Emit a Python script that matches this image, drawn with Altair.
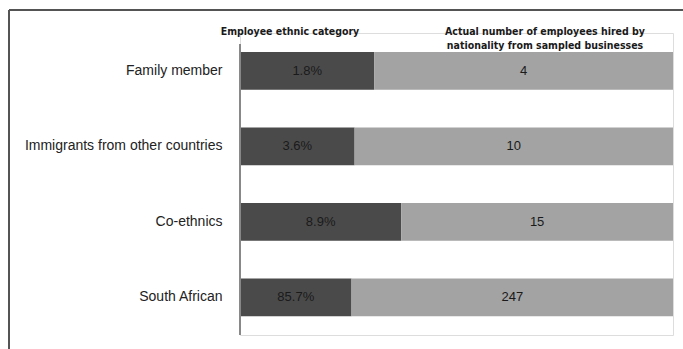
import altair as alt
import pandas as pd

categories = ["Family member", "Immigrants from other countries", "Co-ethnics", "South African"]
pct_values = [1.8, 3.6, 8.9, 85.7]
count_values = [4, 10, 15, 247]
pct_labels = ["1.8%", "3.6%", "8.9%", "85.7%"]
count_labels = ["4", "10", "15", "247"]
segments = ["Employee ethnic category", "Actual number of employees hired by nationality from sampled businesses"]

rows = []
for c, p, n, pl, nl in zip(categories, pct_values, count_values, pct_labels, count_labels):
    rows.append({"category": c, "segment": segments[0], "order": 0, "value": p, "label": pl})
    rows.append({"category": c, "segment": segments[1], "order": 1, "value": n, "label": nl})
df = pd.DataFrame(rows)

FONT = "Liberation Sans"

y_enc = alt.Y("category:N", sort=categories,
              scale=alt.Scale(paddingInner=0.5, paddingOuter=0.25),
              axis=alt.Axis(title=None, domain=False, ticks=False, labelPadding=18,
                            labelFont=FONT, labelFontSize=14, labelColor="#222222",
                            labelLimit=300))
x_enc = alt.X("value:Q", stack="normalize",
              scale=alt.Scale(domain=[0, 1], nice=False, zero=True), axis=None)

base = alt.Chart(df)

bars = base.mark_bar().encode(
    y=y_enc,
    x=x_enc,
    color=alt.Color("segment:N", scale=alt.Scale(domain=segments, range=["#4a4a4a", "#a3a3a3"]), legend=None),
    order=alt.Order("order:Q"),
)

texts = base.transform_stack(
    stack="value", groupby=["category"], as_=["v0", "v1"], offset="normalize",
    sort=[alt.SortField("order", "ascending")]
).transform_calculate(mid="(datum.v0 + datum.v1) / 2").mark_text(
    font=FONT, fontSize=13, color="#1a1a1a"
).encode(
    y=alt.Y("category:N", sort=categories),
    x=alt.X("mid:Q", scale=alt.Scale(domain=[0, 1], nice=False)),
    text="label:N",
)

axis_line = alt.Chart(df).mark_rule(color="#888888", strokeWidth=1).encode(
    x=alt.value(0), y=alt.value(11), y2=alt.value(302)
)

hdr1 = alt.Chart(pd.DataFrame({"t": [segments[0]]})).mark_text(
    font="DejaVu Sans Condensed", fontSize=10.5, fontWeight="bold", color="#1a1a1a", align="center"
).encode(x=alt.value(50), y=alt.value(-1), text="t:N")

hdr2 = alt.Chart(pd.DataFrame({"t": [["Actual number of employees hired by", "nationality from sampled businesses"]]})).mark_text(
    font="DejaVu Sans Condensed", fontSize=10.5, fontWeight="bold", color="#1a1a1a", align="center",
    lineHeight=14
).encode(x=alt.value(305), y=alt.value(-1), text="t")

border_left = alt.Chart(df).mark_rule(color="#555555", strokeWidth=1.2).encode(
    x=alt.value(-231), y=alt.value(-23), y2=alt.value(320)
)
border_top = alt.Chart(df).mark_rule(color="#555555", strokeWidth=1.2).encode(
    x=alt.value(-231), x2=alt.value(450), y=alt.value(-23)
)

chart = alt.layer(bars, texts, axis_line, hdr1, hdr2, border_left, border_top).properties(
    width=433, height=302,
    autosize=alt.AutoSizeParams(type="none"),
    padding={"left": 240, "top": 33, "right": 10, "bottom": 14},
).configure_view(stroke=None).configure(background="white")

chart.save("out.html", embed_options={"renderer": "svg", "actions": False})
